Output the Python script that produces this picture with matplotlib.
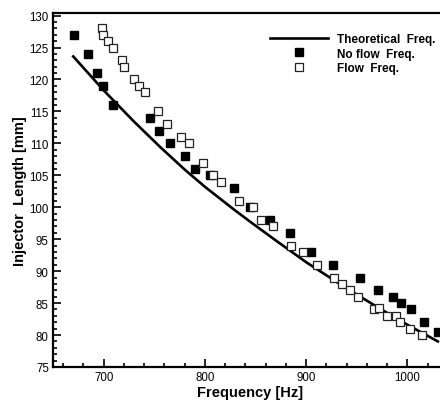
import matplotlib.pyplot as plt
from matplotlib.ticker import MultipleLocator
from matplotlib.lines import Line2D

plt.rcParams['font.family'] = ['Liberation Sans', 'DejaVu Sans']

# Theoretical curve
theo_freq = [670, 700, 730, 756, 780, 800, 829, 845, 870, 900, 937, 970, 1000, 1030]
theo_len = [123.6, 118.3, 113.4, 109.4, 105.9, 103.2, 99.6, 97.7, 94.8, 91.4, 87.6, 84.4, 81.6, 79.0]

# No flow measurements (filled squares)
noflow_freq = [671, 685, 693, 699, 709, 746, 755, 766, 780, 790, 805, 829, 845, 864,
               884, 905, 926, 953, 971, 986, 994, 1003, 1016, 1030]
noflow_len = [127, 124, 121, 119, 116, 114, 112, 110, 108, 106, 105, 103, 100, 98,
              96, 93, 91, 89, 87, 86, 85, 84, 82, 80.5]

# Flow measurements (open squares)
flow_freq = [698, 699, 704, 709, 718, 720, 730, 735, 741, 754, 763, 776, 784, 798,
             808, 816, 834, 847, 855, 867, 885, 897, 911, 927, 935, 943, 951, 967,
             972, 980, 989, 993, 1002, 1014]
flow_len = [128, 127, 126, 125, 123, 122, 120, 119, 118, 115, 113, 111, 110, 107,
            105, 104, 101, 100, 98, 97, 94, 93, 91, 89, 88, 87, 86, 84,
            84.2, 83, 83, 82, 81, 80]

fig = plt.figure(figsize=(4.4, 4.06), dpi=100)
ax = fig.add_axes([53 / 440, 1 - 368 / 406, 395 / 440, 354 / 406])

ax.plot(theo_freq, theo_len, color='black', linewidth=1.9, zorder=2)
ax.plot(noflow_freq, noflow_len, linestyle='none', marker='s', markersize=6.3,
        markerfacecolor='black', markeredgecolor='black', zorder=3)
ax.plot(flow_freq, flow_len, linestyle='none', marker='s', markersize=6.3,
        markerfacecolor='white', markeredgecolor='#222222', markeredgewidth=0.9, zorder=4)

ax.set_xlim(650, 1040)
ax.set_ylim(75, 130.4)
ax.xaxis.set_major_locator(MultipleLocator(100))
ax.xaxis.set_minor_locator(MultipleLocator(20))
ax.yaxis.set_major_locator(MultipleLocator(5))
ax.yaxis.set_minor_locator(MultipleLocator(1))
ax.tick_params(which='both', direction='in', top=False, right=False, labelsize=8.3,
               width=1.2, pad=3)
ax.tick_params(which='major', length=6)
ax.tick_params(which='minor', length=3)
for side in ['left', 'bottom', 'top']:
    ax.spines[side].set_linewidth(1.6)
ax.spines['right'].set_visible(False)

ax.set_xlabel('Frequency [Hz]', fontsize=10.5, fontweight='bold', labelpad=1)
ax.set_ylabel('Injector  Length [mm]', fontsize=10.5, fontweight='bold', labelpad=2)

handles = [
    Line2D([], [], color='black', linewidth=1.9),
    Line2D([], [], linestyle='none', marker='s', markersize=5.8, markerfacecolor='black',
           markeredgecolor='black'),
    Line2D([], [], linestyle='none', marker='s', markersize=5.8, markerfacecolor='white',
           markeredgecolor='#222222', markeredgewidth=0.9),
]
labels = ['Theoretical  Freq.', 'No flow  Freq.', 'Flow  Freq.']
ax.legend(handles, labels, loc='upper left', bbox_to_anchor=(270 / 440, 1 - 34 / 406),
          bbox_transform=fig.transFigure, frameon=False, borderpad=0, borderaxespad=0,
          handlelength=4.9, handletextpad=0.8, labelspacing=0.22,
          prop={'weight': 'bold', 'size': 8.5})

fig.savefig('out.png', dpi=100)
